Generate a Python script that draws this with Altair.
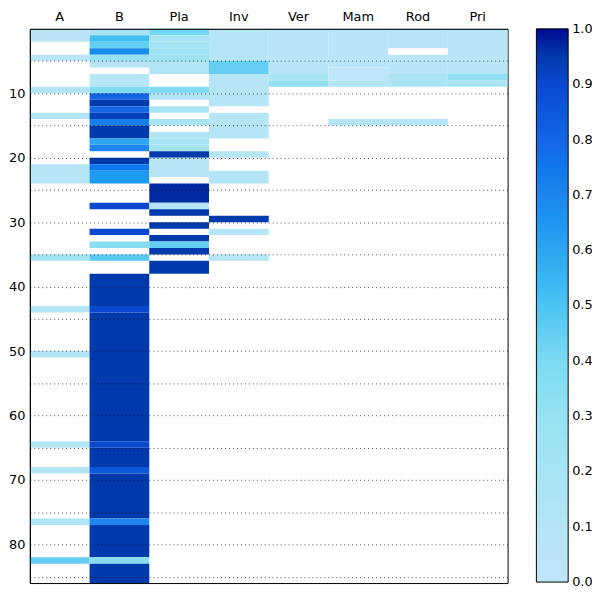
import altair as alt
import pandas as pd

columns = ["A", "B", "Pla", "Inv", "Ver", "Mam", "Rod", "Pri"]

# each entry: (first row, row after last, value)
col_A = [(0, 2, 0.05), (4, 5, 0.06), (9, 10, 0.1), (13, 14, 0.1), (21, 24, 0.08),
         (35, 36, 0.22), (43, 44, 0.1), (50, 51, 0.1), (64, 65, 0.1), (68, 69, 0.1),
         (76, 77, 0.12), (82, 83, 0.45)]
col_B = [(0, 1, 0.2), (1, 2, 0.52), (2, 3, 0.45), (3, 4, 0.68), (4, 5, 0.3), (5, 6, 0.08),
         (7, 9, 0.08), (9, 10, 0.38), (10, 11, 0.8), (11, 12, 0.95), (12, 13, 0.8),
         (13, 14, 0.93), (14, 15, 0.72), (15, 17, 0.95), (17, 18, 0.6), (18, 19, 0.7),
         (20, 21, 0.95), (21, 22, 0.75), (22, 24, 0.64), (27, 28, 0.9), (31, 32, 0.9),
         (33, 34, 0.36), (35, 36, 0.48), (38, 43, 0.95), (43, 44, 0.9), (44, 64, 0.95),
         (64, 65, 0.9), (65, 68, 0.95), (68, 69, 0.85), (69, 76, 0.95), (76, 77, 0.7),
         (77, 82, 0.95), (82, 83, 0.36), (83, 86, 0.95)]
col_Pla = [(0, 1, 0.42), (1, 2, 0.2), (2, 3, 0.22), (3, 4, 0.25), (4, 5, 0.27), (5, 7, 0.12),
           (9, 10, 0.38), (10, 11, 0.12), (12, 13, 0.18), (14, 15, 0.18), (16, 17, 0.12),
           (17, 18, 0.2), (18, 19, 0.22), (19, 20, 0.95), (20, 23, 0.08), (24, 27, 0.97),
           (27, 28, 0.1), (28, 29, 0.95), (30, 31, 0.95), (32, 33, 0.95), (33, 34, 0.45),
           (34, 35, 0.95), (36, 38, 0.95)]
col_Inv = [(0, 5, 0.08), (5, 7, 0.45), (7, 12, 0.08), (13, 17, 0.08), (19, 20, 0.08),
           (22, 24, 0.1), (29, 30, 0.95), (31, 32, 0.08), (35, 36, 0.08)]
col_Ver = [(0, 7, 0.06), (7, 8, 0.2), (8, 9, 0.32)]
col_Mam = [(0, 6, 0.06), (6, 8, 0.0), (8, 9, 0.12), (14, 15, 0.08)]
col_Rod = [(0, 3, 0.06), (4, 7, 0.06), (7, 9, 0.15), (14, 15, 0.08)]
col_Pri = [(0, 7, 0.06), (7, 8, 0.32), (8, 9, 0.18)]

y_ticks = [5, 10, 15, 20, 25, 30, 35, 40, 45, 50, 55, 60, 65, 70, 75, 80, 85]
cbar_ticks = [0.0, 0.1, 0.2, 0.3, 0.4, 0.5, 0.6, 0.7, 0.8, 0.9, 1.0]

# colour map stops (ends nudged a hair outside 0..1 so end labels stay centred)
cmap_domain = [-0.0002, 0.1, 0.2, 0.3, 0.4, 0.5, 0.6, 0.7, 0.8, 0.9, 0.95, 1.0002]
cmap_range = ["#bfe6f8", "#b4e5f6", "#a6e4f4", "#96e2f2", "#7cdaf2", "#4cc4f2",
              "#2ea6f2", "#1e86ee", "#1466e6", "#0a48d0", "#003aac", "#000a90"]

records = []
for name, segs in zip(columns, [col_A, col_B, col_Pla, col_Inv, col_Ver, col_Mam, col_Rod, col_Pri]):
    for start, end, val in segs:
        records.append({"col": name, "y0": start, "y1": end, "v": val})
df = pd.DataFrame(records)

FONT = "DejaVu Sans"

chart = alt.Chart(df).mark_rect(strokeWidth=0).encode(
    x=alt.X("col:N", scale=alt.Scale(domain=columns, paddingInner=0, paddingOuter=0),
            axis=alt.Axis(orient="top", title=None, labelAngle=0, ticks=False,
                          domainColor="black", labelFont=FONT, labelFontSize=13,
                          labelColor="black", labelPadding=5, zindex=1)),
    y=alt.Y("y0:Q", scale=alt.Scale(domain=[0, 86], reverse=True, nice=False, zero=False),
            axis=alt.Axis(title=None, values=y_ticks, grid=True, gridDash=[1, 3],
                          gridColor="black", gridOpacity=0.7, gridWidth=1, ticks=False,
                          domainColor="black",
                          labelExpr="datum.value % 10 === 0 ? datum.label : ''",
                          labelFont=FONT, labelFontSize=13, labelColor="black",
                          labelPadding=5, zindex=1)),
    y2="y1:Q",
    color=alt.Color("v:Q", scale=alt.Scale(domain=cmap_domain, range=cmap_range),
                    legend=alt.Legend(orient="none", legendX=510, legendY=0,
                                      direction="vertical", gradientLength=557,
                                      gradientThickness=32, gradientStrokeColor="black",
                                      gradientStrokeWidth=1, values=cbar_ticks,
                                      format=".1f", labelFont=FONT, labelFontSize=13,
                                      labelColor="black", labelOffset=4,
                                      labelOverlap=False, title=None, padding=0)),
).properties(
    width=481, height=558,
    autosize=alt.AutoSizeParams(type="none"),
    padding={"left": 22, "top": 19, "right": 85, "bottom": 8},
).configure_view(stroke="black", strokeWidth=1)

chart.save("out.html", embed_options={"renderer": "svg", "actions": False})
